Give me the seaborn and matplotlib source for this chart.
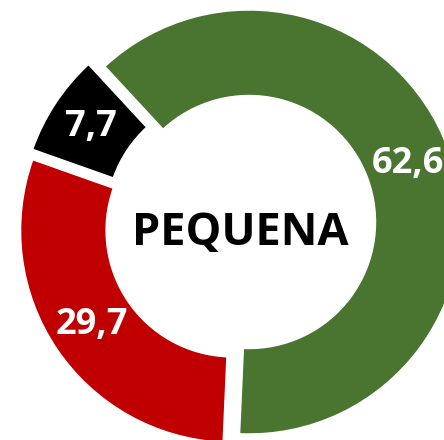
import matplotlib
matplotlib.use("Agg")
import matplotlib.pyplot as plt
import seaborn as sns

categories = ["Verde", "Vermelho", "Preto"]
values = [62.6, 29.7, 7.7]
colors = ["#4A7531", "#C00000", "#000000"]
center_label = "PEQUENA"

sns.set_theme(style="white")
plt.rcParams["font.family"] = ["Open Sans", "DejaVu Sans"]

fig = plt.figure(figsize=(4.44, 4.40), dpi=100)
ax = fig.add_axes([0, 0, 1, 1])

R = 212
wedges, texts, autotexts = ax.pie(
    values,
    colors=colors,
    startangle=132.8,
    counterclock=False,
    radius=R,
    center=(240.3, 214.8),
    explode=[9.3, 9.3, 9.3],
    pctdistance=0.8,
    autopct=lambda p: f"{p:.1f}".replace(".", ","),
    wedgeprops=dict(width=R - 126.5, edgecolor="white", linewidth=1),
    textprops=dict(color="white", fontsize=26, fontweight="bold"),
    frame=True,
)
ax.set_xlim(0, 444)
ax.set_ylim(0, 440)
ax.axis("off")
ax.text(240, 207, center_label, ha="center", va="center",
        fontsize=32.5, fontweight="bold", color="black")

fig.savefig("out.png", dpi=100)
